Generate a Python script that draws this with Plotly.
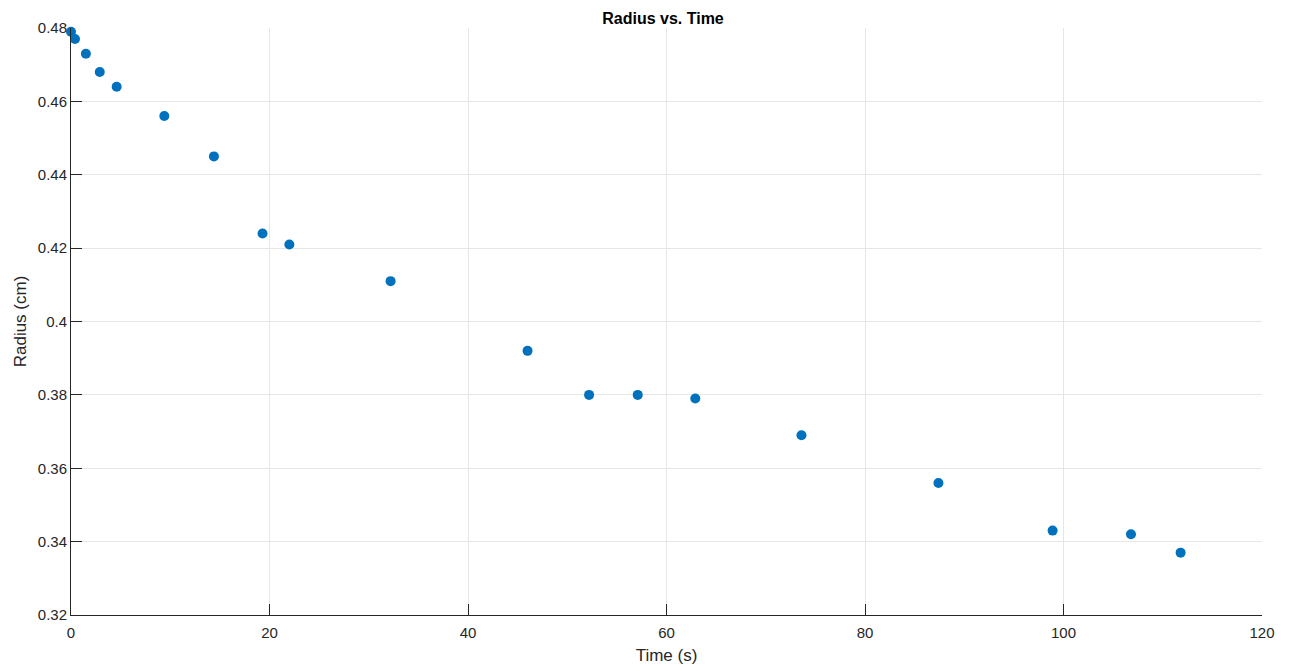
import plotly.graph_objects as go

time_s = [0, 0.4, 1.5, 2.9, 4.6, 9.4, 14.4, 19.3, 22.0, 32.2, 46.0, 52.2, 57.1, 62.9, 73.6, 87.4, 98.9, 106.8, 111.8]
radius_cm = [0.479, 0.477, 0.473, 0.468, 0.464, 0.456, 0.445, 0.424, 0.421, 0.411, 0.392, 0.380, 0.380, 0.379, 0.369, 0.356, 0.343, 0.342, 0.337]
x_ticks = [0, 20, 40, 60, 80, 100, 120]
y_ticks = [0.32, 0.34, 0.36, 0.38, 0.40, 0.42, 0.44, 0.46, 0.48]
y_tick_text = ["0.32", "0.34", "0.36", "0.38", "0.4", "0.42", "0.44", "0.46", "0.48"]

fig = go.Figure()
fig.add_trace(go.Scatter(
    x=time_s, y=radius_cm, mode="markers",
    marker=dict(color="#0072BD", size=10),
    cliponaxis=False,
))

# The page body adds an 8px offset, so margins are compensated.
font_family = "Liberation Sans, Arial, sans-serif"
fig.update_layout(
    width=1290, height=671,
    margin=dict(l=63, r=36, t=20, b=64),
    paper_bgcolor="white", plot_bgcolor="white",
    showlegend=False,
    font=dict(family=font_family, size=15, color="#262626"),
    title=dict(text="<b>Radius vs. Time</b>", x=(663 - 8) / 1290, xanchor="center",
               y=1 - 10 / 671, yanchor="middle",
               font=dict(size=16, color="#000000")),
)
fig.update_xaxes(
    range=[0, 120], tickvals=x_ticks, ticktext=[str(v) for v in x_ticks],
    showgrid=True, gridcolor="#e6e6e6", gridwidth=1,
    showline=True, linecolor="#262626", linewidth=1,
    ticks="inside", ticklen=11, tickcolor="#262626",
    ticklabelstandoff=4,
    zeroline=False,
    title=dict(text="Time (s)", font=dict(size=17), standoff=9),
)
fig.update_yaxes(
    range=[0.32, 0.48], tickvals=y_ticks, ticktext=y_tick_text,
    showgrid=True, gridcolor="#e6e6e6", gridwidth=1,
    showline=True, linecolor="#262626", linewidth=1,
    ticks="inside", ticklen=11, tickcolor="#262626",
    zeroline=False,
    title=dict(text="Radius (cm)", font=dict(size=17), standoff=6),
)

fig.write_html("out.html")
